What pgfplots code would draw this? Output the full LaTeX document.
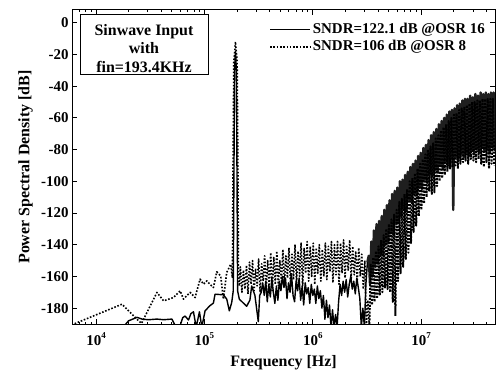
\documentclass[border=0pt]{standalone}
\usepackage{pgfplots}
\pgfplotsset{compat=1.18}
\usepackage{pgfplotstable}
\usepackage{fontspec}
\setmainfont{Liberation Serif}
\newcommand{\sups}[1]{\raisebox{7bp}{\fontsize{9}{9}\selectfont #1}}

\pgfplotstableread{
lx db
4.25 -192
4.30 -188
4.378 -185.8
4.43 -187
4.485 -187.3
4.562 -186.9
4.623 -187.3
4.70 -186.9
4.73 -191
4.776 -191
4.80 -186
4.822 -185
4.853 -187.5
4.875 -183.5
4.899 -182.3
4.924 -192
4.954 -182.3
4.976 -192
5.006 -181.7
5.05 -178.5
5.083 -176.8
5.098 -171.2
5.175 -171.6
5.206 -174.3
5.23 -181.7
5.252 -176.4
5.266 -169.1
5.272 -100
5.278 -30
5.2865 -18
5.295 -30
5.301 -100
5.306 -169
5.322 -174.3
5.359 -176.8
5.39 -178.8
5.42 -174.9
5.436 -166
5.466 -172
5.497 -188.5
5.510 -172
5.524 -170
5.538 -164
5.552 -172
5.566 -163
5.580 -176
5.594 -165
5.608 -173
5.622 -161
5.636 -170
5.650 -177
5.664 -166
5.678 -175
5.692 -163
5.706 -169
5.720 -160
5.734 -167
5.748 -161
5.762 -174
5.776 -164
5.790 -170
5.804 -159
5.818 -172
5.832 -176
5.846 -163
5.860 -169
5.874 -161
5.888 -175
5.902 -166
5.916 -178
5.930 -164
5.944 -171
5.958 -167
5.972 -177
5.986 -165
6.000 -172
6.014 -168
6.028 -177
6.042 -166
6.056 -174
6.070 -169
6.084 -180
6.098 -172
6.112 -187
6.126 -175
6.140 -186
6.154 -178
6.168 -192
6.182 -181
6.196 -192
6.210 -184
6.224 -192
6.238 -176
6.252 -165
6.266 -172
6.280 -163
6.294 -170
6.308 -162
6.322 -173
6.336 -165
6.350 -160
6.364 -168
6.378 -163
6.392 -171
6.406 -161
6.420 -167
6.434 -174
6.448 -192
6.462 -180
6.476 -192
6.490 -165
6.504 -151
}\solidtab

\pgfplotstableread{
lx db
6.504 -151
6.516 -147
6.528 -165
6.540 -138
6.552 -160
6.564 -131
6.576 -154
6.588 -127
6.600 -152
6.612 -125
6.624 -146
6.636 -122
6.648 -147
6.660 -118
6.672 -140
6.684 -115
6.696 -139
6.708 -112
6.720 -133
6.732 -108
6.744 -134
6.756 -106
6.768 -127
6.780 -104
6.792 -126
6.804 -100
6.816 -122
6.828 -99
6.840 -117
6.852 -96
6.864 -119
6.876 -94
6.888 -112
6.900 -91
6.912 -113
6.924 -89
6.936 -108
6.948 -87
6.960 -109
6.972 -84
6.984 -104
6.996 -82
7.008 -105
7.020 -79
7.032 -99
7.044 -77
7.056 -101
7.068 -74
7.080 -96
7.092 -71
7.104 -97
7.116 -69
7.128 -93
7.140 -67
7.152 -94
7.164 -64
7.176 -90
7.188 -62
7.200 -92
7.212 -60
7.224 -88
7.236 -58
7.248 -90
7.260 -56
7.272 -86
7.284 -55
7.296 -118
7.308 -54
7.320 -85
7.332 -52
7.344 -87
7.356 -51
7.368 -83
7.380 -49
7.392 -85
7.404 -48
7.416 -82
7.428 -48
7.440 -84
7.452 -46
7.464 -81
7.476 -47
7.488 -83
7.500 -45
7.512 -80
7.524 -46
7.536 -82
7.548 -44
7.560 -79
7.572 -45
7.584 -81
7.596 -44
7.608 -80
7.620 -45
7.632 -82
7.644 -44
7.656 -79
7.668 -44
7.680 -81
}\soliddense

\pgfplotstableread{
lx db
3.778 -191
3.795 -190
4.24 -177.5
4.393 -188
4.42 -189.6
4.562 -170.1
4.623 -175.4
4.715 -173.3
4.776 -169.1
4.807 -174.3
4.868 -170.1
4.914 -173.3
4.96 -161.7
4.991 -164.9
5.022 -162.8
5.05 -164.9
5.083 -167
5.114 -157.1
5.15 -159.7
5.175 -174.3
5.206 -157.5
5.243 -152.3
5.258 -161
5.263 -100
5.271 -25
5.2865 -12
5.302 -25
5.310 -100
5.314 -158
5.322 -166
5.332 -154
5.346 -170
5.360 -156
5.374 -168
5.388 -153
5.402 -171
5.416 -151
5.430 -165
5.444 -150
5.458 -169
5.472 -155
5.486 -166
5.500 -149
5.514 -170
5.528 -152
5.542 -163
5.556 -147
5.570 -168
5.584 -150
5.598 -166
5.612 -145
5.626 -169
5.640 -148
5.654 -165
5.668 -144
5.682 -166
5.696 -150
5.710 -163
5.724 -143
5.738 -166
5.752 -147
5.766 -161
5.780 -142
5.794 -165
5.808 -146
5.822 -162
5.836 -140
5.850 -164
5.864 -144
5.878 -160
5.892 -139
5.906 -166
5.920 -142
5.934 -158
5.948 -138
5.962 -163
5.976 -141
5.990 -160
6.004 -139
6.018 -165
6.032 -142
6.046 -158
6.060 -140
6.074 -163
6.088 -143
6.102 -160
6.116 -139
6.130 -162
6.144 -141
6.158 -157
6.172 -138
6.186 -164
6.200 -140
6.214 -159
6.228 -138
6.242 -165
6.256 -139
6.270 -158
6.284 -137
6.298 -161
6.312 -140
6.326 -156
6.340 -137
6.354 -162
6.368 -141
6.382 -159
6.396 -144
6.410 -163
6.424 -142
6.438 -160
6.452 -146
6.466 -168
6.480 -150
6.494 -192
6.508 -175
6.522 -192
}\dottab

\pgfplotstableread{
lx db
6.522 -192
6.534 -152
6.546 -178
6.558 -148
6.570 -176
6.582 -144
6.594 -174
6.606 -141
6.618 -172
6.630 -137
6.642 -170
6.654 -134
6.666 -167
6.678 -130
6.690 -168
6.702 -127
6.714 -170
6.726 -124
6.738 -176
6.750 -121
6.762 -185
6.774 -118
6.786 -163
6.798 -113
6.810 -158
6.822 -111
6.834 -154
6.846 -108
6.858 -149
6.870 -105
6.882 -145
6.894 -100
6.906 -139
6.918 -98
6.930 -132
6.942 -95
6.954 -128
6.966 -92
6.978 -122
6.990 -89
7.002 -118
7.014 -86
7.026 -114
7.038 -83
7.050 -110
7.062 -80
7.074 -106
7.086 -78
7.098 -108
7.110 -76
7.122 -107
7.134 -73
7.146 -103
7.158 -71
7.170 -100
7.182 -68
7.194 -98
7.206 -66
7.218 -96
7.230 -64
7.242 -94
7.254 -62
7.266 -92
7.278 -60
7.290 -91
7.302 -58
7.314 -90
7.326 -57
7.338 -92
7.350 -55
7.362 -89
7.374 -54
7.386 -88
7.398 -53
7.410 -87
7.422 -52
7.434 -89
7.446 -51
7.458 -86
7.470 -50
7.482 -87
7.494 -50
7.506 -88
7.518 -49
7.530 -86
7.542 -49
7.554 -89
7.566 -48
7.578 -91
7.590 -48
7.602 -88
7.614 -48
7.626 -92
7.638 -48
7.650 -89
7.662 -48
7.674 -90
}\dotdense

\begin{document}
\begin{tikzpicture}
\begin{axis}[
  name=ax,
  scale only axis, width=423bp, height=314bp,
  xmode=log, xmin=6e3, xmax=4.8e7,
  ymin=-190, ymax=8,
  ytick={-180,-160,-140,-120,-100,-80,-60,-40,-20,0},
  yticklabels={-180,-160,-140,-120,-100,-80,-60,-40,-20,0},
  xtick={1e4,1e5,1e6,1e7},
  xticklabels={{10\sups{4}},{10\sups{5}},{10\sups{6}},{10\sups{7}}},
  minor xtick={7e3,8e3,9e3,2e4,3e4,4e4,5e4,6e4,7e4,8e4,9e4,2e5,3e5,4e5,5e5,6e5,7e5,8e5,9e5,2e6,3e6,4e6,5e6,6e6,7e6,8e6,9e6,2e7,3e7,4e7},
  tick align=inside,
  major tick length=5bp, minor tick length=2.5bp,
  axis line style={line width=1bp},
  every tick/.style={black, line width=0.7bp},
  every tick label/.append style={font=\fontsize{15}{15}\selectfont\bfseries},
  xticklabel style={yshift=-5bp},
  xlabel={Frequency [Hz]},
  ylabel={Power Spectral Density [dB]},
  label style={font=\fontsize{16}{16}\selectfont\bfseries},
  xlabel style={at={(axis description cs:0.5,-0.1338)}, anchor=base},
  ylabel style={at={(axis description cs:-0.1005,0.5)}, anchor=base, rotate=0},
  legend cell align=left,
  legend style={draw=none, fill=none, at={(0.981,0.9656)}, anchor=north east,
    inner sep=0pt, font=\fontsize{15}{15}\selectfont\bfseries,
    nodes={text height=10.5bp, text depth=3bp, inner sep=2bp}},
  legend image code/.code={\draw[#1] (-3bp,0bp) -- (37bp,0bp);},
  every axis plot/.append style={line join=round},
]
\addplot[black, line width=1.4bp] table[x expr={10^\thisrow{lx}}, y=db] {\solidtab};
\addlegendentry{SNDR=122.1 dB @OSR 16}
\addplot[black, line width=1.6bp, dash pattern=on 1.6bp off 1.7bp] table[x expr={10^\thisrow{lx}}, y=db] {\dottab};
\addlegendentry{SNDR=106 dB @OSR 8}
\addplot[forget plot, black!88, line width=2.4bp] table[x expr={10^\thisrow{lx}}, y=db] {\soliddense};
\addplot[forget plot, black, line width=2bp, dash pattern=on 2bp off 1.4bp] table[x expr={10^\thisrow{lx}}, y=db] {\dotdense};
\node[draw, line width=0.7bp, fill=white, minimum width=128bp, minimum height=59.7bp, inner sep=0pt] at (rel axis cs:0.1706,0.8911) {};
\node[font=\fontsize{16}{16}\selectfont\bfseries, anchor=base, inner sep=0pt] at (rel axis cs:0.1702,0.9172) {Sinwave Input};
\node[font=\fontsize{16}{16}\selectfont\bfseries, anchor=base, inner sep=0pt] at (rel axis cs:0.1702,0.8599) {with};
\node[font=\fontsize{16}{16}\selectfont\bfseries, anchor=base, inner sep=0pt] at (rel axis cs:0.1702,0.8025) {fin=193.4KHz};
\end{axis}
\pgfresetboundingbox
\path ([shift={(-72bp,-47bp)}]ax.south west) rectangle ([shift={(1bp,10bp)}]ax.north east);
\end{tikzpicture}
\end{document}
